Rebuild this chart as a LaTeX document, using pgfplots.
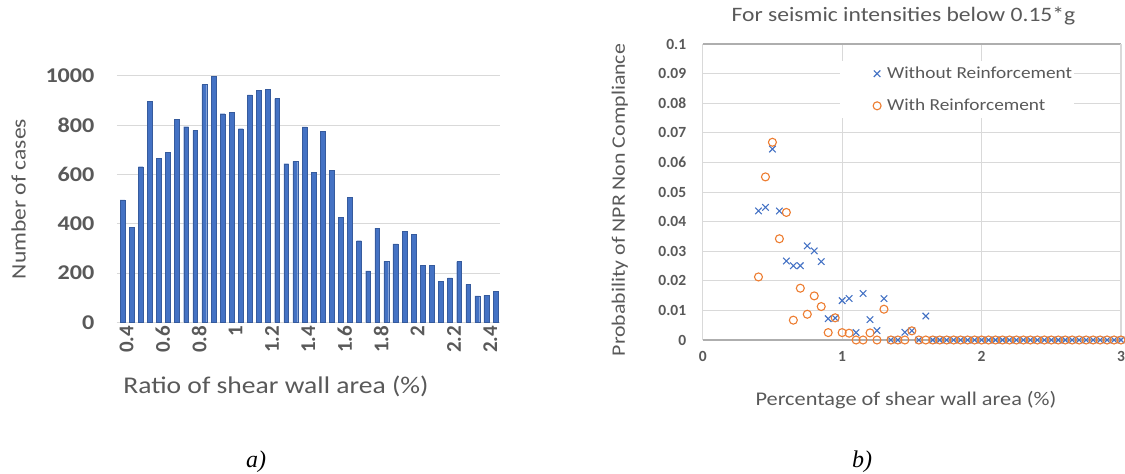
\documentclass[border=0pt]{standalone}
\usepackage{pgfplots}
\pgfplotsset{compat=1.18}
\usepackage{fontspec}
\setmainfont{Carlito}
\newfontfamily\wide{Carlito}[FakeStretch=1.15]
\newfontfamily\capfont{Liberation Serif}
\definecolor{txt}{HTML}{595959}
\definecolor{gridc}{HTML}{D9D9D9}
\definecolor{bblue}{HTML}{4472C4}
\definecolor{oorange}{HTML}{ED7D31}
\pgfplotstableread{
x y
0.40 496
0.45 384
0.50 631
0.55 896
0.60 664
0.65 690
0.70 823
0.75 793
0.80 778
0.85 964
0.90 997
0.95 846
1.00 851
1.05 785
1.10 922
1.15 942
1.20 945
1.25 907
1.30 643
1.35 653
1.40 792
1.45 609
1.50 774
1.55 616
1.60 426
1.65 507
1.70 331
1.75 209
1.80 382
1.85 247
1.90 318
1.95 368
2.00 357
2.05 231
2.10 231
2.15 165
2.20 180
2.25 246
2.30 154
2.35 107
2.40 109
2.45 126
}\hist
\pgfplotstableread{
x y
0.40 0.0436
0.45 0.0448
0.50 0.0645
0.55 0.0436
0.60 0.0267
0.65 0.0251
0.70 0.0251
0.75 0.0318
0.80 0.0301
0.85 0.0265
0.90 0.0072
0.95 0.0074
1.00 0.0133
1.05 0.0140
1.10 0.0025
1.15 0.0157
1.20 0.0069
1.25 0.0032
1.30 0.0140
1.35 0
1.40 0
1.45 0.0026
1.50 0.0031
1.55 0
1.60 0.0081
1.65 0
1.70 0
1.75 0
1.80 0
1.85 0
1.90 0
1.95 0
2.00 0
2.05 0
2.10 0
2.15 0
2.20 0
2.25 0
2.30 0
2.35 0
2.40 0
2.45 0
2.50 0
2.55 0
2.60 0
2.65 0
2.70 0
2.75 0
2.80 0
2.85 0
2.90 0
2.95 0
3.00 0
}\without
\pgfplotstableread{
x y
0.40 0.0213
0.45 0.0551
0.50 0.0668
0.55 0.0342
0.60 0.0431
0.65 0.0067
0.70 0.0175
0.75 0.0087
0.80 0.0149
0.85 0.0113
0.90 0.0025
0.95 0.0075
1.00 0.0025
1.05 0.0023
1.10 0
1.15 0
1.20 0.0024
1.25 0
1.30 0.0104
1.35 0
1.40 0
1.45 0
1.50 0.0031
1.55 0
1.60 0
1.65 0
1.70 0
1.75 0
1.80 0
1.85 0
1.90 0
1.95 0
2.00 0
2.05 0
2.10 0
2.15 0
2.20 0
2.25 0
2.30 0
2.35 0
2.40 0
2.45 0
2.50 0
2.55 0
2.60 0
2.65 0
2.70 0
2.75 0
2.80 0
2.85 0
2.90 0
2.95 0
3.00 0
}\withr
\begin{document}
\begin{tikzpicture}
\useasboundingbox (0pt,0pt) rectangle (1125pt,474pt);
% ---------- a) ----------
\begin{axis}[
  at={(117pt,151.7pt)}, anchor=south west,
  width=383pt, height=246.6pt, scale only axis,
  xmin=0.37, xmax=2.475, ymin=0, ymax=1000,
  axis line style={draw=none},
  ytick={0,200,400,600,800,1000},
  yticklabels={0,200,400,600,800,1000},
  xtick={0.4,0.6,0.8,1,1.2,1.4,1.6,1.8,2,2.2,2.4},
  xticklabels={0.4,0.6,0.8,1,1.2,1.4,1.6,1.8,2,2.2,2.4},
  major tick length=0pt,
  ymajorgrids, grid style={draw=gridc, line width=0.9pt},
  x tick label style={font=\bfseries\fontsize{21}{21}\selectfont, text=txt, rotate=90, anchor=east, yshift=-4pt},
  y tick label style={font=\wide\bfseries\fontsize{21}{21}\selectfont, text=txt, xshift=-19pt},
  xlabel={Ratio of shear wall area (\%)},
  ylabel={Number of cases},
  every axis x label/.style={at={(axis description cs:0.415,-0.287)}, anchor=base, font=\wide\fontsize{24}{24}\selectfont, text=txt},
  every axis y label/.style={at={(axis description cs:-0.257,0.5)}, rotate=90, anchor=center, font=\wide\fontsize{20.5}{20.5}\selectfont, text=txt},
]
\addplot[ybar, bar width=4.8pt, fill=bblue, draw=bblue!80!black, line width=0.3pt] table[x=x,y=y] {\hist};
\end{axis}
% ---------- b) ----------
\begin{axis}[
  at={(702.7pt,134pt)}, anchor=south west,
  width=418.3pt, height=296pt, scale only axis,
  xmin=0, xmax=3, ymin=0, ymax=0.1,
  clip=false,
  xtick={0,1,2,3}, xticklabels={0,1,2,3},
  ytick={0,0.01,0.02,0.03,0.04,0.05,0.06,0.07,0.08,0.09,0.1},
  yticklabels={0,0.01,0.02,0.03,0.04,0.05,0.06,0.07,0.08,0.09,0.1},
  major tick length=0pt,
  xmajorgrids, ymajorgrids, grid style={draw=gridc, line width=0.9pt},
  separate axis lines,
  x axis line style={draw=gridc!80!black, line width=1.2pt},
  y axis line style={draw=gridc, line width=1.2pt},
  tick label style={font=\bfseries\fontsize{15.5}{15.5}\selectfont, text=txt},
  y tick label style={xshift=-13pt},
  x tick label style={yshift=-8pt},
  title={For seismic intensities below 0.15*g},
  title style={font=\wide\fontsize{20.5}{20.5}\selectfont, text=txt, at={(axis description cs:0.48,1)}, anchor=base, yshift=16pt},
  xlabel={Percentage of shear wall area (\%)},
  ylabel={Probability of NPR Non Compliance},
  every axis x label/.style={at={(axis description cs:0.486,-0.22)}, anchor=base, font=\wide\fontsize{19.4}{19.4}\selectfont, text=txt},
  every axis y label/.style={at={(axis description cs:-0.198,0.473)}, rotate=90, anchor=center, font=\wide\fontsize{19}{19}\selectfont, text=txt},
  legend style={at={(axis description cs:0.328,0.943)}, anchor=north west, fill=white, draw=none,
    font=\wide\fontsize{16.8}{16.8}\selectfont, text=txt, inner xsep=0pt, inner ysep=4pt, row sep=15pt},
  legend cell align=left,
  legend image code/.code={\path[draw=none,fill=none] (0pt,-4pt) rectangle (45pt,4pt); \draw[#1] plot coordinates {(37pt,0pt)};},
]
\addplot[only marks, mark=x, mark size=4.6pt, draw=bblue, line width=1.1pt] table[x=x,y=y] {\without};
\addlegendentry{Without Reinforcement\hspace{28pt}}
\addplot[only marks, mark=o, mark size=4pt, draw=oorange, line width=1.1pt] table[x=x,y=y] {\withr};
\addlegendentry{With Reinforcement}
\end{axis}
\node[font=\capfont\itshape\fontsize{24}{24}\selectfont, anchor=center] at (256pt,12pt) {a)};
\node[font=\capfont\itshape\fontsize{24}{24}\selectfont, anchor=center] at (862pt,12pt) {b)};
\end{tikzpicture}
\end{document}
